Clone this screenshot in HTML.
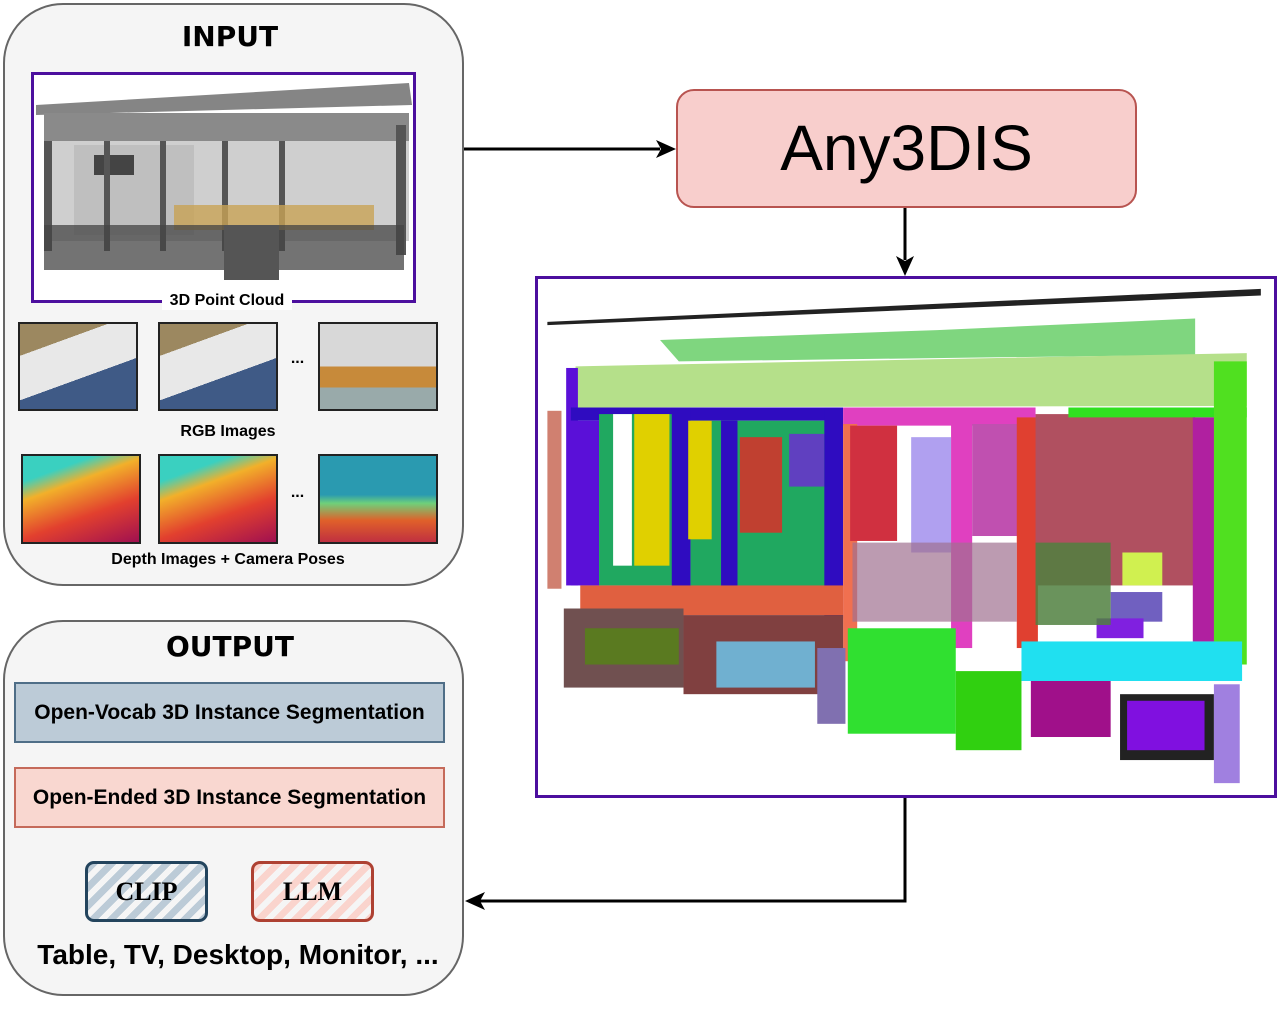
<!DOCTYPE html>
<html><head><meta charset="utf-8"><style>
body{margin:0;width:1278px;height:1010px;background:#fff;position:relative;overflow:hidden;font-family:"Liberation Sans",sans-serif}
.abs{position:absolute;box-sizing:border-box}
.big{border:2px solid #666;background:#f5f5f5;border-radius:60px}
.title{font-family:"Comic Sans MS","DejaVu Sans",sans-serif;font-weight:bold;font-size:28px;text-align:center;width:460px}
.lbl{font-weight:bold;font-size:16px;text-align:center}
.img{border:2px solid #222}
</style></head><body>
<div class="abs big" style="left:3px;top:3px;width:461px;height:583px"></div>
<div class="abs title" style="left:0;top:20px">INPUT</div>
<div class="abs" style="left:31px;top:72px;width:385px;height:231px;border:3px solid #4c0f9e;background:#fff">
<svg width="379" height="225" viewBox="0 0 379 225" style="position:absolute;left:0;top:0">
<polygon points="2,30 375,8 378,30 2,40" fill="#333" opacity=".6"/>
<rect x="10" y="38" width="365" height="30" fill="#8a8a8a"/>
<rect x="10" y="66" width="365" height="100" fill="#cfcfcf"/>
<rect x="40" y="70" width="120" height="90" fill="#bfbfbf"/>
<rect x="60" y="80" width="40" height="20" fill="#444"/>
<rect x="10" y="66" width="8" height="110" fill="#555"/>
<rect x="70" y="66" width="6" height="110" fill="#555"/>
<rect x="126" y="66" width="6" height="110" fill="#555"/>
<rect x="188" y="66" width="6" height="110" fill="#555"/>
<rect x="245" y="66" width="6" height="110" fill="#555"/>
<rect x="362" y="50" width="10" height="130" fill="#555"/>
<rect x="140" y="130" width="200" height="25" fill="#c8a255" opacity=".8"/>
<rect x="10" y="150" width="360" height="45" fill="#444" opacity=".75"/>
<rect x="190" y="150" width="55" height="55" fill="#555"/>
</svg></div>
<div class="abs lbl" style="left:162px;top:292px;width:130px;background:#fff;line-height:18px">3D Point Cloud</div>
<div class="abs img" style="left:18px;top:322px;width:120px;height:89px;background:linear-gradient(160deg,#9c8860 0 25%,#e8e8e8 25% 60%,#3f5a86 60%)"></div>
<div class="abs img" style="left:158px;top:322px;width:120px;height:89px;background:linear-gradient(160deg,#9c8860 0 25%,#e8e8e8 25% 60%,#3f5a86 60%)"></div>
<div class="abs img" style="left:318px;top:322px;width:120px;height:89px;background:linear-gradient(180deg,#d8d8d8 0 50%,#c78a3a 50% 75%,#9aa 75%)"></div>
<div class="abs lbl" style="left:285px;top:350px;width:25px">...</div>
<div class="abs lbl" style="left:3px;top:423px;width:450px">RGB Images</div>
<div class="abs img" style="left:21px;top:454px;width:120px;height:90px;background:linear-gradient(160deg,#3ad0c0 0 20%,#f2b02a 35%,#e2402e 65%,#a01050)"></div>
<div class="abs img" style="left:158px;top:454px;width:120px;height:90px;background:linear-gradient(160deg,#3ad0c0 0 20%,#f2b02a 35%,#e2402e 65%,#a01050)"></div>
<div class="abs img" style="left:318px;top:454px;width:120px;height:90px;background:linear-gradient(180deg,#2a9ab0 0 45%,#6fd07a 55%,#e0602a 75%,#c03040)"></div>
<div class="abs lbl" style="left:285px;top:484px;width:25px">...</div>
<div class="abs lbl" style="left:3px;top:551px;width:450px">Depth Images + Camera Poses</div>

<div class="abs big" style="left:3px;top:620px;width:461px;height:376px"></div>
<div class="abs title" style="left:0;top:630px">OUTPUT</div>
<div class="abs" style="left:14px;top:682px;width:431px;height:61px;background:#bccbd7;border:2px solid #4f6e87;font-weight:bold;font-size:21px;text-align:center;line-height:57px">Open-Vocab 3D Instance Segmentation</div>
<div class="abs" style="left:14px;top:767px;width:431px;height:61px;background:#f9d7d0;border:2px solid #c56a5a;font-weight:bold;font-size:21px;text-align:center;line-height:57px">Open-Ended 3D Instance Segmentation</div>
<div class="abs" style="left:85px;top:861px;width:123px;height:61px;border:3px solid #23445d;border-radius:9px;background:repeating-linear-gradient(135deg,#bccbd7 0 7px,#f5f5f5 7px 13px);font-family:'Liberation Serif',serif;font-weight:bold;font-size:26px;text-align:center;line-height:55px">CLIP</div>
<div class="abs" style="left:251px;top:861px;width:123px;height:61px;border:3px solid #ae4132;border-radius:9px;background:repeating-linear-gradient(135deg,#fad4cd 0 7px,#f5f5f5 7px 13px);font-family:'Liberation Serif',serif;font-weight:bold;font-size:26px;text-align:center;line-height:55px">LLM</div>
<div class="abs" style="left:3px;top:939px;width:470px;text-align:center;font-weight:bold;font-size:28px">Table, TV, Desktop, Monitor, ...</div>

<div class="abs" style="left:676px;top:89px;width:461px;height:119px;background:#f8cecc;border:2px solid #b85450;border-radius:18px;font-size:64px;text-align:center;line-height:115px">Any3DIS</div>

<svg class="abs" style="left:0;top:0" width="1278" height="1010">
<line x1="464" y1="149" x2="660" y2="149" stroke="#000" stroke-width="3"/>
<polygon points="676,149 656,140 661,149 656,158" fill="#000"/>
<line x1="905" y1="208" x2="905" y2="260" stroke="#000" stroke-width="3"/>
<polygon points="905,276 896,256 905,261 914,256" fill="#000"/>
<polyline points="905,797 905,901 480,901" fill="none" stroke="#000" stroke-width="3"/>
<polygon points="465,901 485,892 480,901 485,910" fill="#000"/>
</svg>

<div class="abs" style="left:535px;top:276px;width:742px;height:522px;border:3px solid #4c0f9e;background:#fff">
<svg width="736" height="516" viewBox="0 0 1568 1566" preserveAspectRatio="none" style="position:absolute;left:0;top:0">
<polygon points="20,130 1540,30 1540,50 20,140" fill="#222"/>
<polygon points="260,185 850,155 1400,120 1400,230 300,250" fill="#7fd67f"/>
<polygon points="80,265 1510,225 1510,385 80,390" fill="#b5e08a"/>
<rect x="60" y="270" width="25" height="660" fill="#5a10d8"/>
<rect x="70" y="390" width="570" height="40" fill="#2f0cc0"/>
<rect x="70" y="430" width="60" height="500" fill="#5a10d8"/>
<rect x="130" y="410" width="160" height="520" fill="#20a860"/>
<rect x="160" y="410" width="40" height="460" fill="#fff"/>
<rect x="205" y="410" width="75" height="460" fill="#e0d000"/>
<rect x="285" y="390" width="40" height="580" fill="#2f0cc0"/>
<rect x="325" y="430" width="290" height="550" fill="#20a860"/>
<rect x="320" y="430" width="50" height="360" fill="#e0d000"/>
<rect x="430" y="480" width="90" height="290" fill="#c04030"/>
<rect x="535" y="470" width="75" height="160" fill="#6040c0"/>
<rect x="390" y="430" width="35" height="550" fill="#2f0cc0"/>
<rect x="610" y="390" width="40" height="640" fill="#2f0cc0"/>
<rect x="650" y="390" width="410" height="55" fill="#e040c0"/>
<rect x="650" y="440" width="30" height="720" fill="#f07050"/>
<rect x="665" y="445" width="100" height="350" fill="#d03040"/>
<rect x="795" y="480" width="85" height="350" fill="#b0a0f0"/>
<rect x="880" y="440" width="45" height="680" fill="#e040c0"/>
<rect x="925" y="440" width="125" height="340" fill="#c050b0"/>
<rect x="1020" y="420" width="45" height="700" fill="#e04030"/>
<rect x="1060" y="410" width="340" height="520" fill="#b05060"/>
<rect x="1130" y="390" width="380" height="30" fill="#30e020"/>
<rect x="1395" y="420" width="60" height="680" fill="#b020a0"/>
<rect x="1440" y="250" width="70" height="920" fill="#50e020"/>
<rect x="1245" y="830" width="85" height="100" fill="#d0f050"/>
<rect x="1220" y="950" width="110" height="90" fill="#7060c0"/>
<rect x="1190" y="1030" width="100" height="60" fill="#8020e0"/>
<rect x="670" y="800" width="350" height="240" fill="#a07090" opacity=".7"/>
<rect x="1060" y="800" width="160" height="250" fill="#508040" opacity=".85"/>
<rect x="90" y="930" width="560" height="90" fill="#e06040"/>
<rect x="55" y="1000" width="255" height="240" fill="#705050"/>
<rect x="100" y="1060" width="200" height="110" fill="#5a7a20"/>
<rect x="310" y="1020" width="340" height="240" fill="#804040"/>
<rect x="380" y="1100" width="210" height="140" fill="#70b0d0"/>
<rect x="595" y="1120" width="60" height="230" fill="#8070b0"/>
<rect x="660" y="1060" width="230" height="320" fill="#30e030"/>
<rect x="890" y="1190" width="140" height="240" fill="#30d010"/>
<rect x="1030" y="1100" width="470" height="120" fill="#20e0f0"/>
<rect x="1050" y="1220" width="170" height="170" fill="#a0108a"/>
<rect x="1240" y="1260" width="200" height="200" fill="#222"/>
<rect x="1255" y="1280" width="165" height="150" fill="#8010e0"/>
<rect x="1440" y="1230" width="55" height="300" fill="#a080e0"/>
<rect x="20" y="400" width="30" height="540" fill="#d08070"/>
</svg></div>
</body></html>
